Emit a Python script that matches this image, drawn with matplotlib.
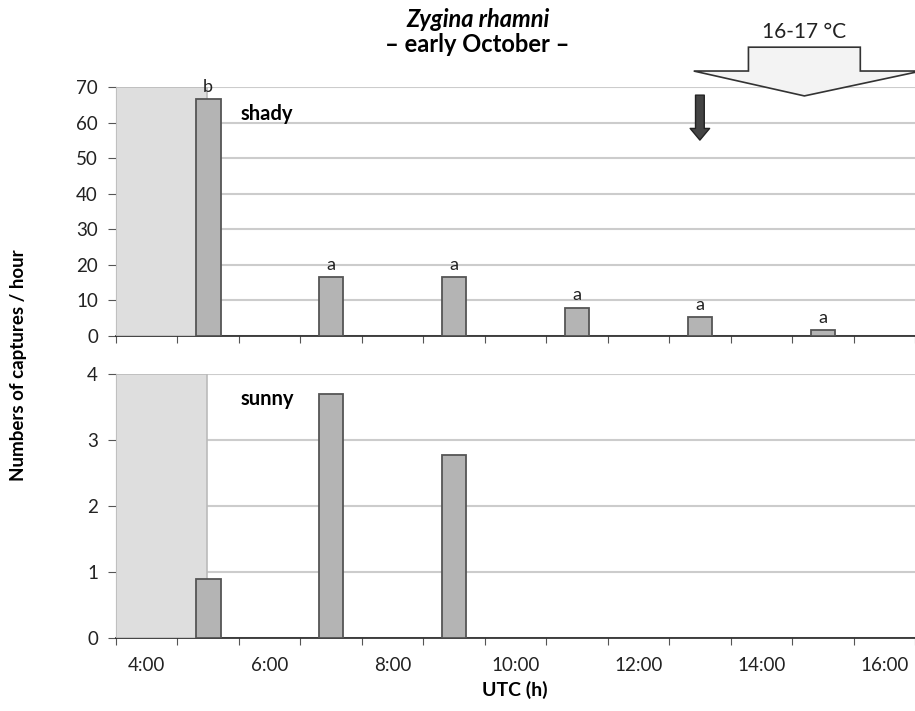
import matplotlib
matplotlib.use('Agg')
from matplotlib import pyplot as plt
from matplotlib.patches import Polygon

plt.rcParams['font.family'] = ['Lato', 'DejaVu Sans']

hours = ['4:00', '5:00', '6:00', '7:00', '8:00', '9:00', '10:00',
         '11:00', '12:00', '13:00', '14:00', '15:00', '16:00']
bar_hours = ['5:00', '7:00', '9:00', '11:00', '13:00', '15:00']
shady = [66.5, 16.5, 16.5, 8.0, 5.4, 1.6]
shady_letters = ['b', 'a', 'a', 'a', 'a', 'a']
sunny = [0.9, 3.7, 2.77, 0, 0, 0]
tick_labels = ['4:00', '6:00', '8:00', '10:00', '12:00', '14:00', '16:00']

bar_face = '#b4b4b4'
bar_edge = '#555555'
grid_c = '#cccccc'

fig = plt.figure(figsize=(9.15, 7.11), dpi=100)
ax1 = fig.add_axes([0.1268, 0.5274, 0.8732, 0.3502])
ax2 = fig.add_axes([0.1268, 0.1027, 0.8732, 0.3713])

xpos = [hours.index(h) for h in bar_hours]


def style_axis(ax, ymax, step):
    ax.set_xlim(-0.5, len(hours) - 0.5)
    ax.set_ylim(0, ymax)
    ax.set_yticks(range(0, ymax + 1, step))
    ax.yaxis.grid(True, color=grid_c, lw=1.5, zorder=0)
    ax.set_axisbelow(True)
    for s in ['top', 'right']:
        ax.spines[s].set_visible(False)
    ax.spines['left'].set_color('#999999')
    ax.spines['bottom'].set_color('#222222')
    ax.spines['bottom'].set_linewidth(1.2)
    ax.set_xticks([i - 0.5 for i in range(len(hours) + 1)])
    ax.set_xticklabels([])
    ax.set_xticks([hours.index(t) for t in tick_labels], minor=True)
    ax.tick_params(axis='x', which='major', direction='out', length=5,
                   color='#555555')
    ax.tick_params(axis='x', which='minor', length=0, labelsize=13.5,
                   pad=14, labelcolor='#222222')
    ax.tick_params(axis='y', direction='out', length=6, color='#555555',
                   labelsize=13.5, labelcolor='#222222', pad=7)
    # shaded night period
    ax.axvspan(-0.5, hours.index('5:00') - 0.02, facecolor='#dedede',
               edgecolor='#bbbbbb', lw=1.2, zorder=2.6)


style_axis(ax1, 70, 10)
style_axis(ax2, 4, 1)
ax1.set_xticklabels([], minor=True)
ax2.set_xticklabels(tick_labels, minor=True)

ax1.bar(xpos, shady, width=0.4, color=bar_face, edgecolor=bar_edge,
        lw=1.3, zorder=3)
for x, v, t in zip(xpos, shady, shady_letters):
    ax1.text(x, v + 1.2, t, ha='center', va='bottom', fontsize=13,
             color='#222222', zorder=4, clip_on=False)

sx = [x for x, v in zip(xpos, sunny) if v > 0]
sv = [v for v in sunny if v > 0]
ax2.bar(sx, sv, width=0.4, color=bar_face, edgecolor=bar_edge,
        lw=1.3, zorder=3)

ax1.text(1.52, 62.5, 'shady', fontsize=14.5, fontweight='bold', va='center')
ax2.text(1.52, 3.62, 'sunny', fontsize=14.5, fontweight='bold', va='center')

# temperature arrow
big = Polygon([(9.79, 81.2), (11.61, 81.2), (11.61, 74.5), (12.6, 74.5),
               (10.7, 67.5), (8.9, 74.5), (9.79, 74.5)],
              closed=True, facecolor='#f3f3f3', edgecolor='#333333',
              lw=1.2, clip_on=False, zorder=5)
ax1.add_patch(big)
ax1.text(10.7, 85.5, '16-17 °C', ha='center', va='center', fontsize=15,
         color='#222222', clip_on=False)

ax1.annotate('', xy=(9, 54.3), xytext=(9, 68.5),
             arrowprops=dict(arrowstyle='simple,head_width=1.0,head_length=0.6,tail_width=0.45',
                             mutation_scale=14, fc='#444444', ec='#222222'),
             zorder=5)

fig.text(0.522, 0.973, 'Zygina rhamni', ha='center', va='center',
         fontsize=17, fontweight='bold', style='italic')
fig.text(0.522, 0.937, '– early October –', ha='center', va='center',
         fontsize=17, fontweight='bold')

fig.text(0.02, 0.487, 'Numbers of captures / hour', rotation=90,
         ha='center', va='center', fontsize=13.5, fontweight='bold')
fig.text(0.563, 0.03, 'UTC (h)', ha='center', va='center', fontsize=14,
         fontweight='bold')

plt.savefig('out.png', dpi=100)
